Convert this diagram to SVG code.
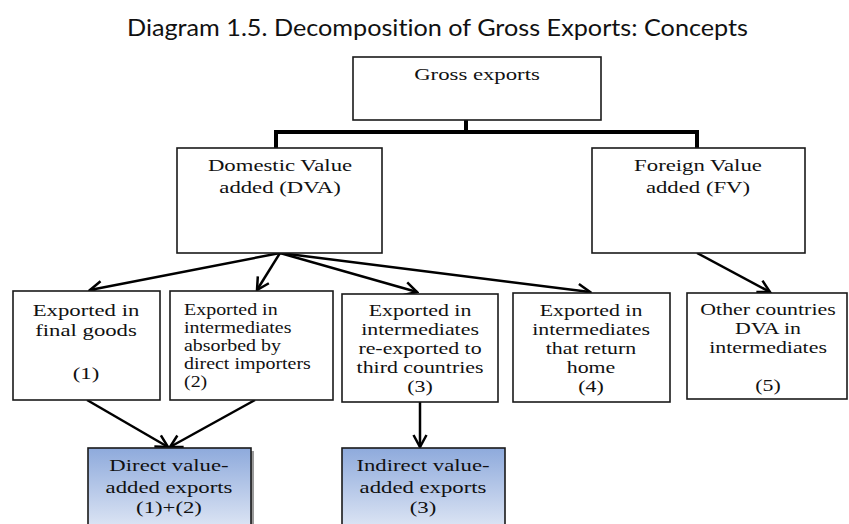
<svg xmlns="http://www.w3.org/2000/svg" width="849" height="524" viewBox="0 0 849 524">
<defs>
<linearGradient id="blue" x1="0" y1="0" x2="0" y2="1">
<stop offset="0" stop-color="#8eaadc"/>
<stop offset="1" stop-color="#dde5f4"/>
</linearGradient>
<marker id="arr" viewBox="0 0 16 16" refX="14" refY="8" markerWidth="16" markerHeight="16" markerUnits="userSpaceOnUse" orient="auto">
<path d="M2,1.5 L14,8 L2,14.5" fill="none" stroke="#000" stroke-width="2.5"/>
</marker>
</defs>
<style>
.box{fill:#fff;stroke:#1a1a1a;stroke-width:1.6}
.bbox{fill:url(#blue);stroke:#1a1a1a;stroke-width:1.6}
.t{font-family:'Liberation Serif','DejaVu Serif',serif;font-size:17.5px;fill:#111}
.s{font-size:16.5px}
.c{text-anchor:middle}
.ln{stroke:#000;stroke-width:2.5;fill:none;marker-end:url(#arr)}
.thick{stroke:#000;stroke-width:4;fill:none}
.title{font-family:Lato,'Open Sans','Liberation Sans',sans-serif;font-size:22.5px;fill:#111;font-variant-ligatures:none;font-feature-settings:"liga" 0,"clig" 0}
</style>
<text class="title" x="127" y="36" textLength="621" lengthAdjust="spacingAndGlyphs">Diagram 1.5. Decomposition of Gross Exports: Concepts</text>

<g id="connectors">
<path class="thick" d="M466,120 V132 M276,132 H697 M276,130 V148 M697,130 V148"/>
<line class="ln" x1="280" y1="253" x2="90" y2="290"/>
<line class="ln" x1="280" y1="253" x2="257" y2="290"/>
<line class="ln" x1="280" y1="253" x2="417" y2="292"/>
<line class="ln" x1="280" y1="253" x2="590" y2="292"/>
<line class="ln" x1="697" y1="253" x2="770" y2="292"/>
<line class="ln" x1="87" y1="400" x2="168" y2="447"/>
<line class="ln" x1="255" y1="400" x2="170" y2="447"/>
<line class="ln" x1="420" y1="402" x2="420" y2="447"/>
</g>

<g id="gross">
<rect class="box" x="353" y="57" width="248" height="63"/>
<text class="t c" transform="translate(477 80) scale(1.3 1)">Gross exports</text>
</g>
<g id="dva">
<rect class="box" x="177" y="148" width="205" height="105"/>
<text class="t c" transform="translate(280 171) scale(1.3 1)">Domestic Value</text>
<text class="t c" transform="translate(280 193) scale(1.3 1)">added (DVA)</text>
</g>
<g id="fv">
<rect class="box" x="592" y="148" width="213" height="105"/>
<text class="t c" transform="translate(698 171) scale(1.3 1)">Foreign Value</text>
<text class="t c" transform="translate(698 193) scale(1.3 1)">added (FV)</text>
</g>

<g id="n1">
<rect class="box" x="13" y="291" width="147" height="109"/>
<text class="t c" transform="translate(86 316) scale(1.3 1)">Exported in</text>
<text class="t c" transform="translate(86 336) scale(1.3 1)">final goods</text>
<text class="t c" transform="translate(86 379) scale(1.3 1)">(1)</text>
</g>
<g id="n2">
<rect class="box" x="170" y="291" width="163" height="109"/>
<text class="t s" transform="translate(184 315) scale(1.21 1)">Exported in</text>
<text class="t s" transform="translate(184 333) scale(1.21 1)">intermediates</text>
<text class="t s" transform="translate(184 351) scale(1.21 1)">absorbed by</text>
<text class="t s" transform="translate(184 369) scale(1.21 1)">direct importers</text>
<text class="t s" transform="translate(184 387) scale(1.21 1)">(2)</text>
</g>
<g id="n3">
<rect class="box" x="342" y="294" width="156" height="108"/>
<text class="t c" transform="translate(420 316) scale(1.25 1)">Exported in</text>
<text class="t c" transform="translate(420 335) scale(1.25 1)">intermediates</text>
<text class="t c" transform="translate(420 354) scale(1.25 1)">re-exported to</text>
<text class="t c" transform="translate(420 373) scale(1.25 1)">third countries</text>
<text class="t c" transform="translate(420 392) scale(1.25 1)">(3)</text>
</g>
<g id="n4">
<rect class="box" x="513" y="293" width="157" height="109"/>
<text class="t c" transform="translate(591 316) scale(1.25 1)">Exported in</text>
<text class="t c" transform="translate(591 335) scale(1.25 1)">intermediates</text>
<text class="t c" transform="translate(591 354) scale(1.25 1)">that return</text>
<text class="t c" transform="translate(591 373) scale(1.25 1)">home</text>
<text class="t c" transform="translate(591 392) scale(1.25 1)">(4)</text>
</g>
<g id="n5">
<rect class="box" x="687" y="293" width="160" height="106"/>
<text class="t c" transform="translate(768 315) scale(1.25 1)">Other countries</text>
<text class="t c" transform="translate(768 334) scale(1.25 1)">DVA in</text>
<text class="t c" transform="translate(768 353) scale(1.25 1)">intermediates</text>
<text class="t c" transform="translate(768 391) scale(1.25 1)">(5)</text>
</g>

<g id="direct">
<rect x="91" y="451" width="163" height="80" fill="#9a9a9a"/>
<rect class="bbox" x="88" y="448" width="163" height="80"/>
<text class="t c" transform="translate(169 471) scale(1.3 1)">Direct value-</text>
<text class="t c" transform="translate(169 493) scale(1.3 1)">added exports</text>
<text class="t c" transform="translate(169 513) scale(1.3 1)">(1)+(2)</text>
</g>
<g id="indirect">
<rect class="bbox" x="342" y="448" width="163" height="80"/>
<text class="t c" transform="translate(423 471) scale(1.3 1)">Indirect value-</text>
<text class="t c" transform="translate(423 493) scale(1.3 1)">added exports</text>
<text class="t c" transform="translate(423 513) scale(1.3 1)">(3)</text>
</g>
</svg>
